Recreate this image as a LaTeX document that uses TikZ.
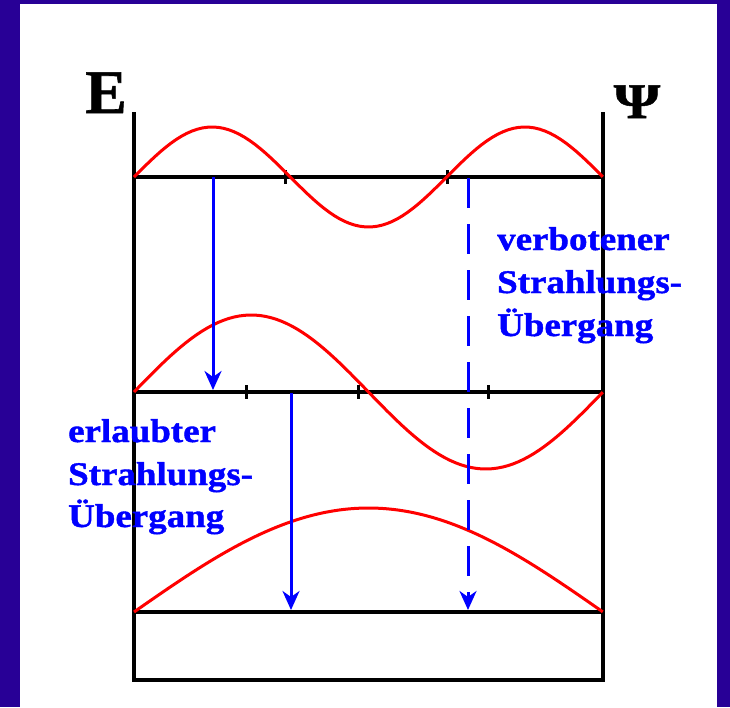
\documentclass[tikz,border=0pt]{standalone}
\usepackage{fontspec}
\setmainfont{Liberation Serif}
\newfontfamily\lblfont{Liberation Serif}[FakeStretch=1.12, FakeBold=1.2]
\newfontfamily\symfont{Liberation Serif}[FakeBold=1]
\usetikzlibrary{arrows.meta}

\definecolor{framecol}{RGB}{40,0,150}

\begin{document}
\begin{tikzpicture}[x=1pt, y=-1pt,
    level/.style={line width=3.5pt},
    wave/.style={red, line width=3pt, line join=round},
    trans/.style={blue, line width=3pt, -{Stealth[length=19pt,width=17pt,inset=6pt]}},
    forbidden/.style={trans, dash pattern=on 30pt off 16pt},
    lbl/.style={blue, font=\lblfont\bfseries\fontsize{33pt}{40pt}\selectfont, anchor=base west, inner sep=0pt}]
    \useasboundingbox (0,0) rectangle (730,707);
    \fill[white] (0,0) rectangle (730,707);
    \fill[framecol] (0,0) rectangle (20,707);
    \fill[framecol] (0,0) rectangle (730,4);
    \fill[framecol] (717,0) rectangle (730,707);

    \coordinate (TL) at (134,112);
    \coordinate (TR) at (603,112);
    \coordinate (BL) at (134,680);
    \coordinate (BR) at (603,680);
    \coordinate (L3a) at (134,177);
    \coordinate (L3b) at (603,177);
    \coordinate (L2a) at (134,392);
    \coordinate (L2b) at (603,392);
    \coordinate (L1a) at (134,612);
    \coordinate (L1b) at (603,612);

    \draw[level] (TL) -- (BL) -- (BR) -- (TR);
    \draw[level] (L3a) -- (L3b);
    \draw[level] (L2a) -- (L2b);
    \draw[level] (L1a) -- (L1b);
    \foreach \t in {285,447} {\draw[line width=3pt] (\t,170) -- (\t,184);}
    \foreach \t in {246,358,488} {\draw[line width=3pt] (\t,385) -- (\t,399);}

    \draw[wave] plot[domain=0:1, samples=90] ({134+469*\x}, {177-50*sin(540*\x)});
    \draw[wave] plot[domain=0:1, samples=90] ({134+469*\x}, {392-77*sin(360*\x)});
    \draw[wave] plot[domain=0:1, samples=90] ({134+469*\x}, {612-104*sin(180*\x)});

    \coordinate (s1) at (213,177);
    \coordinate (e1) at (213,390);
    \coordinate (s2) at (291,393);
    \coordinate (e2) at (291,610);
    \coordinate (s3) at (468,178);
    \coordinate (e3) at (468,610);
    \draw[trans] (s1) -- (e1);
    \draw[trans] (s2) -- (e2);
    \draw[forbidden] (s3) -- (e3);

    \node[font=\symfont\bfseries\fontsize{62pt}{62pt}\selectfont, anchor=base, inner sep=0pt] (E) at (106,113) {E};
    \node[font=\symfont\bfseries\fontsize{50pt}{50pt}\selectfont, anchor=base, inner sep=0pt, xscale=1.2] (Psi) at (637,118) {Ψ};

    \node[lbl] (vb1) at (497,250) {verbotener};
    \node[lbl] (vb2) at (497,293) {Strahlungs-};
    \node[lbl] (vb3) at (497,336) {Übergang};
    \node[lbl] (el1) at (68,442) {erlaubter};
    \node[lbl] (el2) at (68,485) {Strahlungs-};
    \node[lbl] (el3) at (68,527) {Übergang};
\end{tikzpicture}
\end{document}
